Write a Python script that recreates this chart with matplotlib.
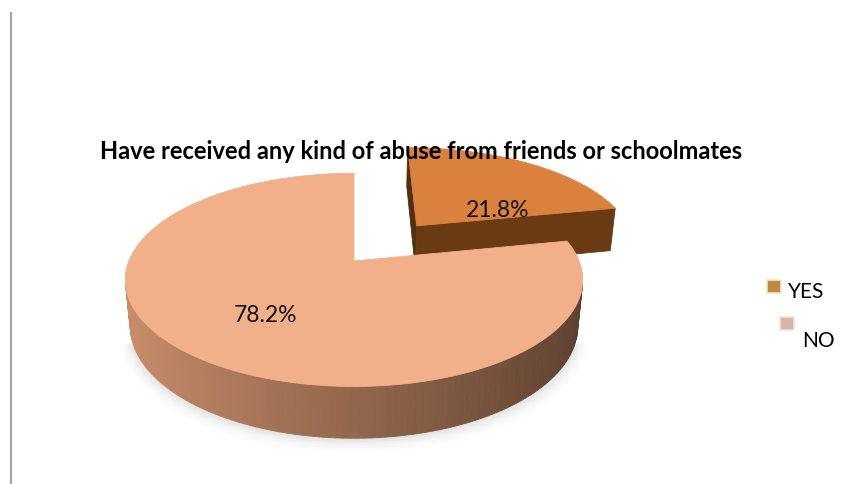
import numpy as np
import matplotlib
matplotlib.use("Agg")
import matplotlib.pyplot as plt
from matplotlib.patches import Polygon, Rectangle
from matplotlib.colors import to_rgb

# ---- data ----
categories = ["YES", "NO"]
values = [21.8, 78.2]
title = "Have received any kind of abuse from friends or schoolmates"

# ---- style ----
explode = [0.468, 0.0]
top_colors = ["#DB813E", "#F2B08A"]
side_light = ["#8A4E1E", "#CB8F6B"]
side_dark = ["#5E3411", "#5A3F2E"]
legend_colors = ["#C48A3C", "#D9B6A4"]
label_polar = [(64.9, 0.445), (217.0, 0.598)]   # label spot on each top face

W, H = 848, 485
fig = plt.figure(figsize=(W / 100, H / 100), dpi=100)
ax = fig.add_axes([0, 0, 1, 1])
ax.set_xlim(0, W)
ax.set_ylim(H, 0)
ax.axis("off")

# perspective camera for the 3-D pie
tilt = np.radians(27.3)
s, c = np.sin(tilt), np.cos(tilt)
dist = 5.02
focal = 1130.0
cx, cy = 354.0, 262.0
thick = 0.232
cam = np.array([0.0, -dist * c, dist * s])


def project(pts):
    pts = np.atleast_2d(pts)
    x, y, z = pts[:, 0], pts[:, 1], pts[:, 2]
    depth = dist + y * c - z * s
    u = focal * x / depth
    v = focal * (y * s + z * c) / depth
    return np.column_stack([cx + u, cy - v])


def depth_of(pts):
    pts = np.atleast_2d(pts)
    return np.mean(dist + pts[:, 1] * c - pts[:, 2] * s)


def rim(phi, off, z):
    return np.array([off[0] + np.sin(phi), off[1] + np.cos(phi), z])


def lerp(a, b, t):
    a, b = np.array(to_rgb(a)), np.array(to_rgb(b))
    return tuple(a + (b - a) * t)


total = sum(values)
bounds = np.cumsum([0] + values) / total * 2 * np.pi

# soft shadow under the front of the pie
ang = np.linspace(0, 2 * np.pi, 200)
shadow_clip = Rectangle((0, 345), W, H, transform=ax.transData)
for k, a in enumerate(np.linspace(0.06, 0.015, 6)):
    grow = 1.0 + 0.01 * k
    ring = np.array([[grow * np.sin(t), grow * np.cos(t), -thick] for t in ang])
    pp = project(ring)
    pp[:, 1] += 2 + k
    sh = Polygon(pp, closed=True, facecolor="#808080", edgecolor="none",
                 alpha=a, zorder=1)
    ax.add_patch(sh)
    sh.set_clip_path(shadow_clip)

slices = []
for i, v in enumerate(values):
    a0, a1 = bounds[i], bounds[i + 1]
    mid = 0.5 * (a0 + a1)
    off = np.array([explode[i] * np.sin(mid), explode[i] * np.cos(mid)])
    slices.append((i, a0, a1, off))

# far slices first
slices.sort(key=lambda t: -depth_of(np.array([[t[3][0], t[3][1], 0.0]])))

z = 2
for i, a0, a1, off in slices:
    faces = []
    n = max(int((a1 - a0) / (2 * np.pi) * 240), 8)
    phis = np.linspace(a0, a1, n + 1)
    # curved outer wall, split into strips for shading
    for p0, p1 in zip(phis[:-1], phis[1:]):
        pm = 0.5 * (p0 + p1)
        normal = np.array([np.sin(pm), np.cos(pm), 0.0])
        quad = np.array([rim(p0, off, 0), rim(p1, off, 0),
                         rim(p1, off, -thick), rim(p0, off, -thick)])
        if np.dot(normal, cam - quad.mean(axis=0)) <= 0:
            continue
        t = (normal[0] + 1) / 2
        faces.append((depth_of(quad), quad, lerp(side_light[i], side_dark[i], t)))
    # flat cut faces
    for a, sign in ((a0, -1), (a1, 1)):
        normal = sign * np.array([np.cos(a), -np.sin(a), 0.0])
        ctr_t = np.array([off[0], off[1], 0.0])
        ctr_b = np.array([off[0], off[1], -thick])
        quad = np.array([ctr_t, rim(a, off, 0), rim(a, off, -thick), ctr_b])
        if np.dot(normal, cam - quad.mean(axis=0)) <= 0:
            continue
        col = lerp(side_dark[i], "#000000", 0.12) if sign < 0 else side_dark[i]
        if i == 0 and sign > 0:
            col = "#6A3A14"
        faces.append((depth_of(quad), quad, col))
    faces.sort(key=lambda f: -f[0])
    for _, quad, col in faces:
        ax.add_patch(Polygon(project(quad), closed=True, facecolor=col,
                             edgecolor=col, linewidth=0.6, zorder=z))
    # top face
    top = [np.array([off[0], off[1], 0.0])] + [rim(p, off, 0) for p in phis]
    ax.add_patch(Polygon(project(np.array(top)), closed=True,
                         facecolor=top_colors[i], edgecolor=top_colors[i],
                         linewidth=0.6, zorder=z + 1))
    z += 2

# value labels on the top faces
for i, v in enumerate(values):
    a0, a1 = bounds[i], bounds[i + 1]
    mid = 0.5 * (a0 + a1)
    off = np.array([explode[i] * np.sin(mid), explode[i] * np.cos(mid)])
    la, lr = label_polar[i]
    la = np.radians(la)
    pt = np.array([off[0] + lr * np.sin(la), off[1] + lr * np.cos(la), 0.0])
    px, py = project(pt)[0]
    ax.text(px, py, f"{v:.1f}%", ha="center", va="center", fontsize=16.5,
            family="Lato", color="#111111", zorder=20)

# title
ax.text(421, 159, title, ha="center", va="baseline", fontsize=17,
        fontweight="bold", family="Lato", color="#000000", zorder=25)

# legend
legend_boxes = [(767, 281), (780, 318)]
legend_text = [(788, 292), (802, 341)]
for i, name in enumerate(categories):
    bx, by = legend_boxes[i]
    ax.add_patch(Rectangle((bx, by), 14, 13, facecolor=legend_colors[i],
                           edgecolor="#EFE6DE", linewidth=1.2, zorder=20))
    tx, ty = legend_text[i]
    ax.text(tx, ty, name, ha="left", va="center", fontsize=15, family="Lato",
            color="#000000", zorder=20)

# left border rule
ax.plot([11, 11], [13, H], color="#A6A6A6", linewidth=1.6, zorder=5,
        solid_capstyle="butt")

fig.savefig("out.png", dpi=100)
